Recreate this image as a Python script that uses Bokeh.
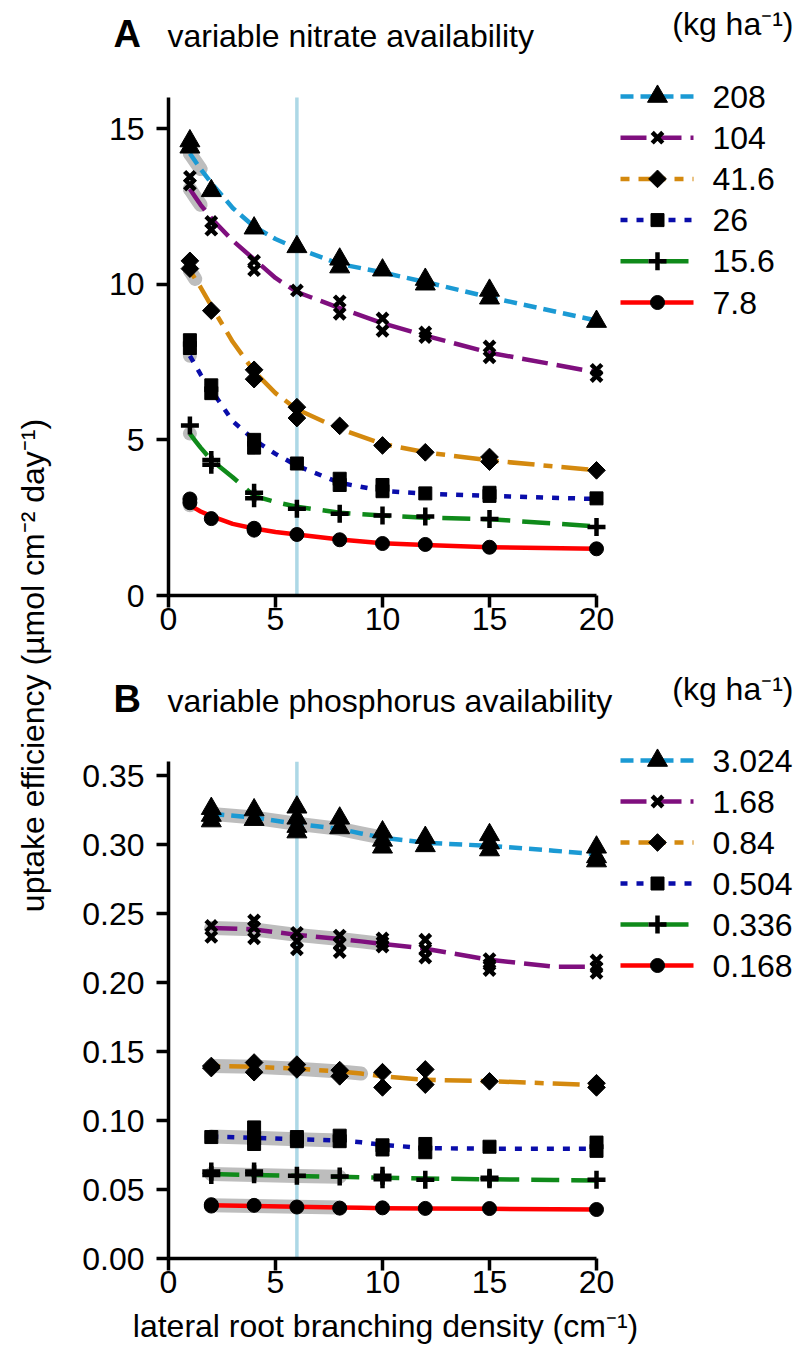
import math
from bokeh.plotting import figure
from bokeh.layouts import row, column
from bokeh.models import Range1d, FixedTicker, PrintfTickFormatter
from bokeh.embed import file_html
from bokeh.resources import INLINE
from bokeh.core.properties import value

FONT = "Liberation Sans"

# ---------------- data: panel A (nitrate) ----------------
levels_A = ["208", "104", "41.6", "26", "15.6", "7.8"]
x_A = [1, 2, 4, 6, 8, 10, 12, 15, 20]
obs_A_208 = [[14.6, 14.4], [13.0], [11.8], [11.2], [10.8, 10.55], [10.45], [10.15, 10.0], [9.8, 9.55], [8.8]]
obs_A_104 = [[13.45, 13.2], [12.0, 11.75], [10.75, 10.45], [9.8], [9.45, 9.05], [8.9, 8.5], [8.45, 8.3], [8.0, 7.65], [7.25, 7.05]]
obs_A_41_6 = [[10.75, 10.5], [9.15], [7.25, 6.95], [6.05, 5.7], [5.45], [4.82], [4.6], [4.45, 4.3], [4.02]]
obs_A_26 = [[8.2, 7.95], [6.75, 6.5], [5.0, 4.75], [4.24], [3.75, 3.55], [3.55, 3.35], [3.28], [3.3, 3.2], [3.12]]
obs_A_15_6 = [[5.46], [4.35, 4.2], [3.3, 3.12], [2.79], [2.63], [2.57], [2.54], [2.46], [2.2]]
obs_A_7_8 = [[3.1, 2.98], [2.47], [2.16, 2.1], [1.96], [1.79], [1.67], [1.64], [1.55], [1.5]]

fit_x_A = [1, 1.25, 1.5, 2, 3, 4, 5, 6, 8, 10, 12, 15, 20]
fit_A_208 = [14.2, 13.95, 13.7, 13.25, 12.45, 11.85, 11.45, 11.15, 10.65, 10.38, 10.07, 9.58, 8.83]
fit_A_104 = [13.06, 12.8, 12.55, 12.12, 11.4, 10.8, 10.2, 9.75, 9.23, 8.75, 8.35, 7.8, 7.17]
fit_A_41_6 = [10.44, 10.17, 9.9, 9.3, 8.15, 7.2, 6.5, 5.98, 5.35, 4.87, 4.6, 4.34, 4.02]
fit_A_26 = [7.7, 7.4, 7.1, 6.6, 5.6, 5.0, 4.55, 4.17, 3.62, 3.36, 3.27, 3.2, 3.1]
fit_A_15_6 = [5.2, 4.97, 4.75, 4.35, 3.8, 3.2, 3.0, 2.85, 2.66, 2.57, 2.5, 2.45, 2.22]
fit_A_7_8 = [2.9, 2.8, 2.7, 2.55, 2.3, 2.15, 2.04, 1.96, 1.8, 1.68, 1.62, 1.55, 1.5]
band_end_A = [2, 2, 1, 0, 0, 0]   # last index of fit_x_A covered by the grey band

# ---------------- data: panel B (phosphorus) ----------------
levels_B = ["3.024", "1.68", "0.84", "0.504", "0.336", "0.168"]
x_B = [2, 4, 6, 8, 10, 12, 15, 20]
obs_B_3_024 = [[0.326, 0.321, 0.317], [0.325, 0.318], [0.327, 0.319, 0.313, 0.309], [0.319, 0.312],
               [0.309, 0.303, 0.298], [0.305, 0.299], [0.307, 0.301, 0.296], [0.298, 0.291, 0.288]]
obs_B_1_68 = [[0.241, 0.233], [0.245, 0.240, 0.232], [0.236, 0.230, 0.224], [0.234, 0.228, 0.222],
              [0.232, 0.229, 0.226], [0.231, 0.224, 0.218], [0.217, 0.213, 0.209], [0.216, 0.211, 0.207]]
obs_B_0_84 = [[0.1395, 0.138], [0.142, 0.135], [0.1405, 0.137], [0.1365, 0.132], [0.135, 0.124],
              [0.137, 0.126], [0.1284], [0.127, 0.124]]
obs_B_0_504 = [[0.088], [0.095, 0.087, 0.083], [0.088, 0.085], [0.089, 0.085], [0.082, 0.079],
               [0.083, 0.077], [0.081], [0.084, 0.078]]
obs_B_0_336 = [[0.063, 0.0605], [0.063, 0.061], [0.060], [0.0595], [0.060, 0.0575], [0.057],
               [0.0585, 0.0575], [0.057]]
obs_B_0_168 = [[0.039, 0.038], [0.0385], [0.0373], [0.0365], [0.0367], [0.0363], [0.0362], [0.0355]]

fit_x_B = [2, 4, 6, 8, 9, 10, 12, 15, 18, 20]
fit_B_3_024 = [0.3222, 0.3195, 0.315, 0.3113, 0.308, 0.305, 0.3013, 0.299, 0.2955, 0.293]
fit_B_1_68 = [0.2395, 0.2385, 0.2345, 0.2315, 0.2298, 0.228, 0.2245, 0.2165, 0.2115, 0.2115]
fit_B_0_84 = [0.1395, 0.139, 0.1375, 0.1355, 0.134, 0.132, 0.1295, 0.1285, 0.1268, 0.1255]
fit_B_0_504 = [0.0884, 0.0875, 0.0865, 0.0855, 0.0842, 0.0824, 0.080, 0.0795, 0.0795, 0.0795]
fit_B_0_336 = [0.0612, 0.0605, 0.0598, 0.0592, 0.0589, 0.0586, 0.058, 0.0574, 0.0569, 0.0566]
fit_B_0_168 = [0.0385, 0.038, 0.0375, 0.037, 0.0367, 0.0365, 0.0362, 0.036, 0.0357, 0.0355]
band_end_B = [5, 5, 4, 3, 3, 3]

x_ticks = [0, 5, 10, 15, 20]
y_ticks_A = [0, 5, 10, 15]
y_ticks_B = [0.0, 0.05, 0.10, 0.15, 0.20, 0.25, 0.30, 0.35]
marked_density = 6

# ---------------- styles ----------------
COLORS = ["#1B9AD4", "#7F0F7E", "#D4890E", "#0A0DAA", "#0F8A1A", "#FF0000"]
DASHES = ["13 7", "26 9", "9 9 27 9", "7 9", "28 12", "solid"]
MARKERS = [("triangle", 20, 0.0, 1), ("x", 15, 0.0, 4.5), ("square", 12.5, math.pi / 4, 1),
           ("square", 13, 0.0, 1), ("cross", 18, 0.0, 4.5), ("circle", 14, 0.0, 1)]
BAND = "#BDBDBD"
VLINE = "#ADD8E6"
FS = "32px"
MID32 = 11.5       # baseline -> centre offset for 32px text
MID38 = 13.7

# ---------------- layout (pixels, page coordinates) ----------------
LEFT_W = 60
PANEL_W = 737
BORDER_L = 108
FRAME_W = PANEL_W - BORDER_L
PX_X = 21.4
PX_YA = 31.13
PX_YB = 1380.0
H_TA, H_PA, H_TB, H_PB, H_TX = 70, 590, 70, 579, 39
A_BOTTOM, B_BOTTOM = 65, 51
H_TOTAL = H_TA + H_PA + H_TB + H_PB + H_TX


def style_axes(p, yticks, ytop, fmt=None):
    for ax in (p.xaxis[0], p.yaxis[0]):
        ax.axis_line_width = 3.5
        ax.major_tick_line_width = 3.5
        ax.major_tick_out = 12
        ax.major_tick_in = 0
        ax.minor_tick_line_color = None
        ax.major_label_text_font = FONT
        ax.major_label_text_font_size = FS
        ax.major_label_text_color = "black"
        ax.axis_line_color = "black"
        ax.major_tick_line_color = "black"
    p.xaxis[0].ticker = FixedTicker(ticks=x_ticks)
    p.xaxis[0].bounds = (0, 20)
    p.xaxis[0].major_label_standoff = 0
    p.yaxis[0].ticker = FixedTicker(ticks=yticks)
    p.yaxis[0].bounds = (0, ytop)
    p.yaxis[0].major_label_standoff = 12
    if fmt:
        p.yaxis[0].formatter = PrintfTickFormatter(format=fmt)


def make_panel(height, bottom, px_y):
    frame_h = height - bottom
    p = figure(width=PANEL_W, height=height, output_backend="svg", toolbar_location=None,
               x_range=Range1d(0, FRAME_W / PX_X), y_range=Range1d(0, frame_h / px_y),
               min_border_left=BORDER_L, min_border_right=0, min_border_top=0,
               min_border_bottom=bottom, frame_align=False)
    p.outline_line_color = None
    p.grid.visible = False
    p.background_fill_color = "white"
    p.border_fill_color = "white"
    return p


def make_strip(width, height):
    p = figure(width=width, height=height, output_backend="svg", toolbar_location=None,
               x_range=Range1d(0, width), y_range=Range1d(0, height),
               x_axis_location=None, y_axis_location=None, min_border=0, frame_align=False)
    p.outline_line_color = None
    p.grid.visible = False
    p.background_fill_color = "white"
    p.border_fill_color = "white"
    return p


def txt(p, x, y, s, size=FS, align="left", style="normal", angle=0.0):
    p.text([x], [y], text=[s], text_font=value(FONT), text_font_size=value(size), text_align=align,
           text_baseline="middle", text_font_style=style, text_color="black", angle=angle)


def draw_series(p, xs, obs_list, fit_x, fits, band_end, ytop):
    p.segment(x0=[marked_density], y0=[0], x1=[marked_density], y1=[ytop], line_color=VLINE, line_width=3.5)
    for i in range(6):
        k = band_end[i]
        if k > 0:
            p.line(fit_x[:k + 1], fits[i][:k + 1], line_color=BAND, line_width=14, line_cap="round",
                   line_join="round")
        p.scatter([fit_x[0]], [fits[i][0]], marker="circle", size=14, fill_color=BAND, line_color=None)
    for i in range(6):
        p.line(fit_x, fits[i], line_color=COLORS[i], line_width=4.5, line_dash=DASHES[i], line_join="round")
    for i in range(6):
        m, s, a, lw = MARKERS[i]
        px = [x for x, ys in zip(xs, obs_list[i]) for _ in ys]
        py = [y for ys in obs_list[i] for y in ys]
        p.scatter(px, py, marker=m, size=s, angle=a, fill_color="black", line_color="black", line_width=lw)


def draw_legend(p, labels, row_px, to_y):
    x0, x1, xm, xt = (620 - 168) / PX_X, (693 - 168) / PX_X, (657 - 168) / PX_X, (712 - 168) / PX_X
    for i, lab in enumerate(labels):
        y = to_y(row_px[i])
        p.line([x0, x1], [y, y], line_color=COLORS[i], line_width=4.5, line_dash=DASHES[i])
        m, s, a, lw = MARKERS[i]
        p.scatter([xm], [y], marker=m, size=s, angle=a, fill_color="black", line_color="black", line_width=lw)
        txt(p, xt, y, lab)


# ---------------- title strip A (page y 0..70) ----------------
top_TA = 0
tA = make_strip(PANEL_W, H_TA)
yA = lambda py: top_TA + H_TA - py
txt(tA, 113 - LEFT_W, yA(47 - MID38), "A", size="38px", style="bold")
txt(tA, 167 - LEFT_W, yA(47 - MID32), "variable nitrate availability")
txt(tA, 793 - LEFT_W, yA(35 - MID32), "(kg ha\u207b\u00b9)", align="right")

# ---------------- panel A (page y 70..660) ----------------
pA = make_panel(H_PA, A_BOTTOM, PX_YA)
style_axes(pA, y_ticks_A, 16)
toA = lambda py: (595 - py) / PX_YA
draw_series(pA, x_A, [obs_A_208, obs_A_104, obs_A_41_6, obs_A_26, obs_A_15_6, obs_A_7_8], fit_x_A,
            [fit_A_208, fit_A_104, fit_A_41_6, fit_A_26, fit_A_15_6, fit_A_7_8], band_end_A, 16)
draw_legend(pA, levels_A, [96 + 41.2 * i for i in range(6)], toA)

# ---------------- title strip B (page y 660..730) ----------------
top_TB = top_TA + H_TA + H_PA
tB = make_strip(PANEL_W, H_TB)
yB = lambda py: top_TB + H_TB - py
txt(tB, 113 - LEFT_W, yB(712 - MID38), "B", size="38px", style="bold")
txt(tB, 167 - LEFT_W, yB(712 - MID32), "variable phosphorus availability")
txt(tB, 793 - LEFT_W, yB(700 - MID32), "(kg ha\u207b\u00b9)", align="right")

# ---------------- panel B (page y 730..1309) ----------------
pB = make_panel(H_PB, B_BOTTOM, PX_YB)
style_axes(pB, y_ticks_B, 0.36, "%.2f")
toB = lambda py: (1258 - py) / PX_YB
draw_series(pB, x_B, [obs_B_3_024, obs_B_1_68, obs_B_0_84, obs_B_0_504, obs_B_0_336, obs_B_0_168], fit_x_B,
            [fit_B_3_024, fit_B_1_68, fit_B_0_84, fit_B_0_504, fit_B_0_336, fit_B_0_168], band_end_B, 0.36)
draw_legend(pB, levels_B, [760 + 41.0 * i for i in range(6)], toB)

# ---------------- x label strip (page y 1309..1348) ----------------
top_TX = top_TB + H_TB + H_PB
tX = make_strip(PANEL_W, H_TX)
txt(tX, 385 - LEFT_W, top_TX + H_TX - (1337 - MID32), "lateral root branching density (cm\u207b\u00b9)",
    align="center")

# ---------------- shared y label ----------------
pL = make_strip(LEFT_W, H_TOTAL)
txt(pL, 32, H_TOTAL - 665, "uptake efficiency (\u00b5mol cm\u207b\u00b2 day\u207b\u00b9)",
    align="center", angle=math.pi / 2)

layout = row(pL, column(tA, pA, tB, pB, tX))
open("out.html", "w").write(file_html(layout, INLINE))
